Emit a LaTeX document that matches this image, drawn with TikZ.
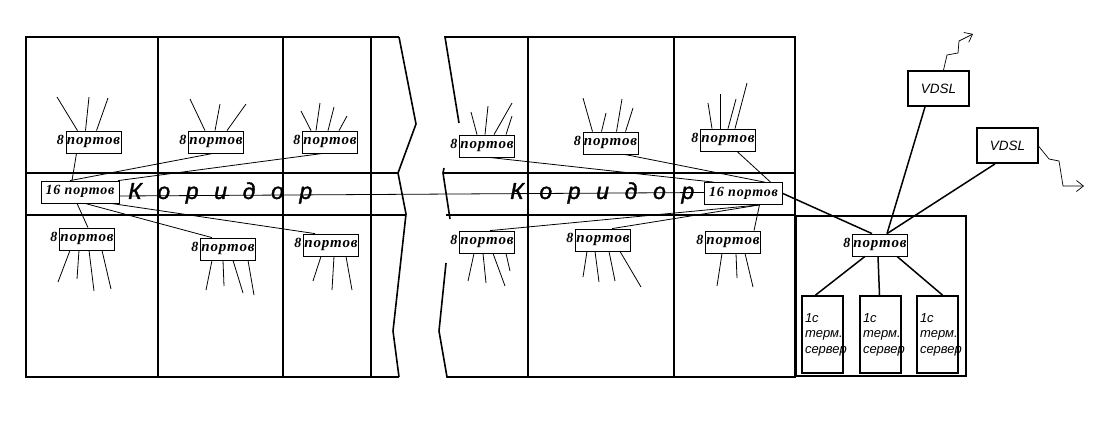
\documentclass[tikz,border=0pt]{standalone}
\usepackage{fontspec}
\usepackage{tikz}
\usetikzlibrary{arrows.meta}
\setmainfont{Liberation Sans}
\newfontfamily\portfont[LetterSpace=6]{Liberation Serif}
\newfontfamily\eightfont{Liberation Serif}
\newfontfamily\corrfont[LetterSpace=68,FakeBold=1.5]{Liberation Sans}
\tikzset{
	wall/.style={line width=1.6pt},
	wire/.style={line width=0.8pt},
	link/.style={line width=1.5pt},
	sw/.style={draw, line width=0.8pt, fill=white, inner sep=0pt, minimum width=55pt, minimum height=22pt, text height=8pt, text depth=3pt, font=\portfont\fontsize{15}{18}\selectfont\bfseries\itshape, label={[font=\eightfont\fontsize{14}{16}\selectfont\bfseries\itshape, inner sep=0pt, xshift=-1.5pt, text height=8pt, text depth=3pt]left:8}},
	hub/.style={draw, line width=0.8pt, fill=white, inner sep=0pt, minimum width=78pt, minimum height=22pt, text height=8pt, text depth=3pt, font=\portfont\fontsize{14}{16}\selectfont\bfseries\itshape},
	vdsl/.style={draw, line width=1.8pt, fill=white, inner sep=0pt, minimum width=61pt, minimum height=35pt, font=\fontsize{13.5}{16}\selectfont\itshape},
	srv/.style={draw, line width=1.8pt, inner sep=0pt, minimum width=41pt, minimum height=77pt, text width=35pt, align=left, font=\fontsize{13}{15.5}\selectfont\itshape},
	corr/.style={inner sep=0pt, anchor=west, font=\corrfont\fontsize{23}{26}\selectfont\itshape},
	tip/.style={-{Straight Barb[length=7pt,width=11pt,line width=0.7pt]}, line width=0.7pt}
}
\newcommand{\stubs}[3]{\foreach \sx/\ex/\ey in {#3} {\coordinate (e) at (\ex,\ey); \draw[wire] ([xshift=\sx pt]#1.#2) -- (e);}}
\begin{document}
\begin{tikzpicture}[x=1pt, y=-1pt]
	\useasboundingbox (0,0) rectangle (1118,440);
	% plan, left part
	\draw[wall] (399,37) -- (26,37) -- (26,377) -- (399,377);
	\draw[wall] (26,173) -- (398,173);
	\draw[wall] (26,215) -- (406,215);
	\foreach \wx in {158,283,371} \draw[wall] (\wx,37) -- (\wx,377);
	\draw[wall] (399,37) -- (416,124) -- (398,173) -- (406,214) -- (393,331) -- (399,377);
	% plan, right part
	\draw[wall] (459,123) -- (445,37) -- (795,37) -- (795,377) -- (447,377) -- (439,331) -- (446,263);
	\draw[wall] (444,168) -- (443,173) -- (450,219);
	\draw[wall] (443,173) -- (795,173);
	\draw[wall] (446,215) -- (795,215);
	\foreach \wx in {528,674} \draw[wall] (\wx,37) -- (\wx,377);
	\draw[wall] (796,216) rectangle (966,376);
	% corridor labels
	\node[corr] (corrL) at (128,193) {Коридор};
	\node[corr] (corrR) at (510,193) {Коридор};
	% switches
	\node[hub] (hubL) at (80,192) {16 портов};
	\node[hub] (hubR) at (743.5,193.5) {16 портов};
	\node[sw] (swA) at (93.5,142) {портов};
	\node[sw] (swB) at (216,142) {портов};
	\node[sw] (swC) at (330,142) {портов};
	\node[sw] (swD) at (87,239) {портов};
	\node[sw] (swE) at (228,249) {портов};
	\node[sw] (swF) at (331,245) {портов};
	\node[sw] (swG) at (487,146) {портов};
	\node[sw] (swH) at (610.5,143) {портов};
	\node[sw] (swI) at (728,140) {портов};
	\node[sw] (swJ) at (487,242) {портов};
	\node[sw] (swK) at (603,240) {портов};
	\node[sw] (swL) at (733,242) {портов};
	\node[sw] (swM) at (880,245) {портов};
	\node[vdsl] (vdslA) at (938.5,88.5) {VDSL};
	\node[vdsl] (vdslB) at (1007.5,145.5) {VDSL};
	\node[srv] (srvA) at (822.5,334.5) {1с\\терм.\\сервер};
	\node[srv] (srvB) at (880.5,334.5) {1с\\терм.\\сервер};
	\node[srv] (srvC) at (937.5,334.5) {1с\\терм.\\сервер};
	% links to the hubs
	\draw[wire] ([xshift=-17pt]swA.south) -- ([xshift=-8pt]hubL.north);
	\draw[wire] ([xshift=-3pt]swB.south) -- ([xshift=-10pt]hubL.north);
	\draw[wire] ([xshift=-7pt]swC.south) -- ([xshift=38pt]hubL.north);
	\draw[wire] ([xshift=-3pt]hubL.south) -- ([xshift=1pt]swD.north);
	\draw[wire] ([xshift=5pt]hubL.south) -- ([xshift=-16pt]swE.north);
	\draw[wire] ([xshift=31pt]hubL.south) -- ([xshift=-16pt]swF.north);
	\draw[wire] ([xshift=2pt]swG.south) -- ([xshift=-30pt]hubR.north);
	\draw[wire] ([xshift=14pt]swH.south) -- ([xshift=21pt]hubR.north);
	\draw[wire] ([xshift=9pt]swI.south) -- ([xshift=27pt]hubR.north);
	\draw[wire] ([xshift=16pt]hubR.south) -- ([xshift=3pt]swJ.north);
	\draw[wire] ([xshift=16pt]hubR.south) -- ([xshift=9pt]swK.north);
	\draw[wire] ([xshift=16pt]hubR.south) -- ([xshift=21pt]swL.north);
	\draw[wire] ([yshift=-4pt]hubL.east) -- ([yshift=1pt]hubR.west);
	% cables to the rooms
	\stubs{swA}{north}{-16/57/97, -8/89/97, 3/108/98}
	\stubs{swB}{north}{-11/190/99, -1/220/104, 11/246/104}
	\stubs{swC}{north}{-19/301/111, -14/320/103, -2/334/107, 9/347/116}
	\stubs{swD}{south}{-17/58/282, -8/77/279, 2/94/291, 15/111/289}
	\stubs{swE}{south}{-16/206/290, -5/224/286, 5/243/293, 20/254/295}
	\stubs{swF}{south}{-10/313/281, 3/332/290, 15/352/290}
	\stubs{swG}{north}{-10/471/112, -2/488/106, 7/512/103, 19/512/116}
	\stubs{swH}{north}{-18/583/98, -9/606/113, 6/622/99, 15/633/108}
	\stubs{swI}{north}{-16/708/103, -8/720/94, 0/736/99, 7/747/83}
	\stubs{swJ}{south}{-13/468/281, -4/486/283, 6/505/286, 19/510/271}
	\stubs{swK}{south}{-16/583/277, -8/599/282, 6/615/281, 17/641/287}
	\stubs{swL}{south}{-11/717/286, 3/737/278, 12/753/287}
	% server room
	\draw[link] (hubR.east) -- ([xshift=-8pt]swM.north);
	\draw[link] ([xshift=-13.5pt]vdslA.south) -- ([xshift=7pt]swM.north);
	\draw[link] ([xshift=-12.5pt]vdslB.south) -- ([xshift=7pt]swM.north);
	\draw[link] ([xshift=-15pt]swM.south) -- ([xshift=-7pt]srvA.north);
	\draw[link] ([xshift=-2pt]swM.south) -- ([xshift=-1pt]srvB.north);
	\draw[link] ([xshift=17pt]swM.south) -- ([xshift=5pt]srvC.north);
	% lines out
	\coordinate (outA) at (973,34);
	\coordinate (outB) at (1084,186);
	\draw[tip] ([xshift=5pt]vdslA.north) -- (947,55) -- (958,53) -- (959,41) -- (outA);
	\draw[tip] ([yshift=-1pt]vdslB.east) -- (1049,159) -- (1059,161) -- (1063,186) -- (outB);
\end{tikzpicture}
\end{document}
